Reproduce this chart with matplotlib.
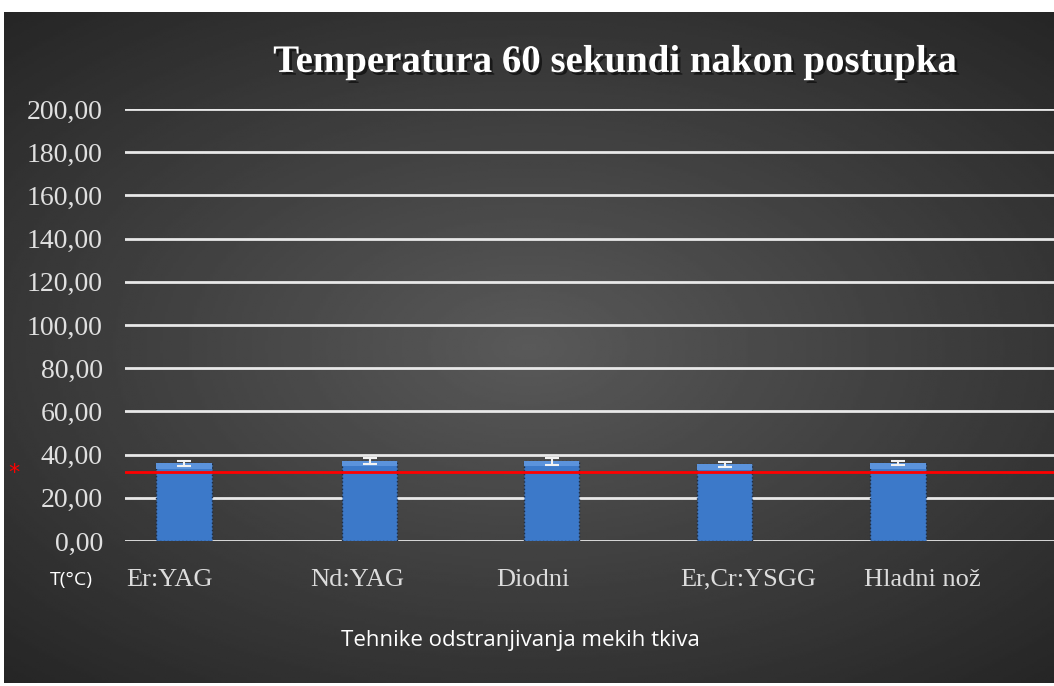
import numpy as np
import matplotlib.pyplot as plt
import matplotlib.patheffects as pe

# podaci
tehnike = ["Er:YAG", "Nd:YAG", "Diodni", "Er,Cr:YSGG", "Hladni nož"]
temperatura = [36.0, 37.0, 37.0, 35.5, 36.0]
greska = [1.2, 1.4, 1.6, 1.2, 1.0]
prag = 32.0
y_ticks = [0, 20, 40, 60, 80, 100, 120, 140, 160, 180, 200]

fig = plt.figure(figsize=(10.54, 6.86), dpi=100)

# tamna pozadina s radijalnim gradijentom
bg = fig.add_axes([0.004, 0.004, 0.996, 0.979])
yy, xx = np.mgrid[-1:1:300j, -1:1:400j]
r = np.sqrt((xx / 1.1) ** 2 + (yy / 1.0) ** 2)
bg.imshow(0.35 - 0.15 * r, cmap="gray", vmin=0, vmax=1, aspect="auto",
          extent=[0, 1, 0, 1])
bg.axis("off")

ax = fig.add_axes([0.1186, 0.2114, 0.8814, 0.6296])
ax.patch.set_alpha(0)
x = np.array([0.0, 1.04, 2.06, 3.03, 4.0])  # polozaj stupaca
ax.bar(x, temperatura, width=0.31, color="#3c79c9", edgecolor="#1c2c44",
       linestyle=":", linewidth=1, zorder=3)
# svjetliji rub na vrhu (efekt reljefa)
ax.bar(x, [2.5] * 5, bottom=np.array(temperatura) - 2.5, width=0.31,
       color="#5b93dc", linewidth=0, zorder=3)
ax.errorbar(x, temperatura, yerr=greska, fmt="none", ecolor="#f2f2f2",
            elinewidth=1.5, capsize=5, capthick=1.5, zorder=4)
ax.axhline(prag, color="#ff0000", lw=2, zorder=5)

ax.set_xlim(-0.33, 4.874)
ax.set_ylim(0, 200)
ax.set_yticks(y_ticks)
ax.set_yticklabels([f"{v:.2f}".replace(".", ",") for v in y_ticks],
                   family="Liberation Serif", fontsize=20, color="#e0e0e0")
ax.tick_params(axis="y", length=0, pad=16)
ax.set_xticks([])
for s in ax.spines.values():
    s.set_visible(False)
for v in y_ticks:
    ax.axhline(v, color="#e8e8e8", lw=2, zorder=1)

# oznake kategorija (tekstualni okviri ispod osi)
lab_x = [0.120, 0.294, 0.471, 0.645, 0.820]
for t, lx in zip(tehnike, lab_x):
    fig.text(lx, 0.155, t, family="Liberation Serif", fontsize=19,
             color="#dcdcdc", ha="left", va="center")
fig.text(0.047, 0.155, "T(°C)", family="Open Sans", fontsize=14,
         color="white", ha="left", va="center")
fig.text(0.494, 0.067, "Tehnike odstranjivanja mekih tkiva", family="Open Sans",
         fontsize=16, color="white", ha="center", va="center")
fig.text(0.013, 0.31, "*", color="#ff0000", fontsize=16, ha="center",
         va="center", family="DejaVu Sans")

# naslov sa sjenom
naslov = "Temperatura 60 sekundi nakon postupka"
fig.text(0.584, 0.909, naslov, family="Liberation Serif", weight="bold",
         fontsize=28, color="white", ha="center", va="center",
         path_effects=[pe.withSimplePatchShadow(offset=(2, -2),
                                                shadow_rgbFace="#111111",
                                                alpha=0.8)])

fig.savefig("out.png", dpi=100, facecolor="white")
